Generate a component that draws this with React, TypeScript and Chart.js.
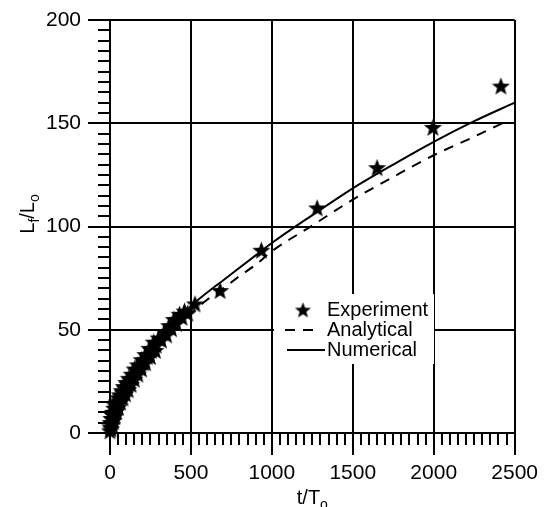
import React, { useEffect, useRef } from 'react';
import { Chart, registerables } from 'chart.js';

Chart.register(...registerables);

// ---- data ----
const xTickValues = [0, 500, 1000, 1500, 2000, 2500];
const yTickValues = [0, 50, 100, 150, 200];

const expT = [0, 2, 4, 6, 8, 10, 12, 14, 15, 18, 21, 22, 25, 28, 30, 32, 36, 40, 40, 45, 50, 52, 55, 60, 65, 66, 72, 78, 80, 85, 92, 95, 100, 108, 112, 116, 125, 130, 134, 143, 150, 152, 162, 172, 172, 183, 195, 195, 205, 218, 220, 230, 243, 250, 256, 270, 280, 285, 300, 318, 335, 350, 365, 380, 395, 410, 430, 445, 460, 480, 525, 680, 935, 1280, 1650, 1995, 2415];
const expY = [1, 3, 5, 2, 7, 5, 9, 4, 7, 10, 8.5, 6, 12, 10, 8, 13.5, 12, 15, 10.5, 14, 17, 12.5, 15.5, 18.5, 15, 17.5, 20.5, 19.5, 17, 22.5, 21.5, 19, 24.5, 23.5, 21, 26.5, 25.5, 23.5, 28.5, 28, 26, 31, 30, 33, 28.5, 32, 35.5, 31, 34, 38, 34, 37, 41, 37, 40, 44, 40, 42.5, 46, 45, 49, 47.5, 52, 50.5, 55, 53, 57.5, 56, 59, 58, 62.5, 69, 88.5, 109, 128.5, 148, 168];

const numT = [0, 10, 25, 50, 100, 200, 300, 400, 500, 600, 700, 800, 900, 1000, 1250, 1500, 1750, 2000, 2250, 2500];
const numY = [0, 6, 10.5, 16, 24, 36, 45.5, 54, 61.5, 68, 74, 80, 86, 92, 105.5, 118.5, 130, 141, 151, 160];

const anaT = [0, 10, 25, 50, 100, 200, 300, 400, 500, 600, 700, 800, 900, 1000, 1250, 1500, 1750, 2000, 2250, 2450];
const anaY = [0, 6, 10.3, 15.5, 23, 34.5, 43.5, 51, 58, 64.5, 70, 76, 81.5, 88, 100.5, 113, 124, 134.5, 143.5, 151];

const legendLabels = ['Experiment', 'Analytical', 'Numerical'];
const xTitle = [{ t: 't/T', sub: false }, { t: 'o', sub: true }];
const yTitle = [{ t: 'L', sub: false }, { t: 'f', sub: true }, { t: '/L', sub: false }, { t: 'o', sub: true }];

const FONT = "'Liberation Sans', Arial, Helvetica, sans-serif";

function makeStar(r: number): HTMLCanvasElement {
  const size = Math.ceil(r * 2 + 2);
  const c = document.createElement('canvas');
  c.width = size;
  c.height = size;
  const ctx = c.getContext('2d')!;
  const cx = size / 2;
  const cy = size / 2 + r * 0.08;
  ctx.beginPath();
  for (let i = 0; i < 10; i++) {
    const rad = i % 2 === 0 ? r : r * 0.42;
    const a = -Math.PI / 2 + (i * Math.PI) / 5;
    const px = cx + rad * Math.cos(a);
    const py = cy + rad * Math.sin(a);
    if (i === 0) ctx.moveTo(px, py);
    else ctx.lineTo(px, py);
  }
  ctx.closePath();
  ctx.fillStyle = '#000';
  ctx.fill();
  return c;
}

function drawRich(ctx: CanvasRenderingContext2D, parts: { t: string; sub: boolean }[], x: number, y: number) {
  const big = `20px ${FONT}`;
  const small = `14px ${FONT}`;
  let w = 0;
  for (const p of parts) {
    ctx.font = p.sub ? small : big;
    w += ctx.measureText(p.t).width;
  }
  let cx = x - w / 2;
  ctx.textAlign = 'left';
  ctx.textBaseline = 'alphabetic';
  for (const p of parts) {
    ctx.font = p.sub ? small : big;
    ctx.fillText(p.t, cx, p.sub ? y + 5 : y);
    cx += ctx.measureText(p.t).width;
  }
}

export default function App() {
  const ref = useRef<HTMLCanvasElement | null>(null);

  useEffect(() => {
    if (!ref.current) return;
    const star = makeStar(9.5);
    const legendStar = makeStar(8.5);

    const extras = {
      id: 'extras',
      afterDraw(chart: any) {
        const ctx: CanvasRenderingContext2D = chart.ctx;
        const xs = chart.scales.x;
        const ys = chart.scales.y;
        const area = chart.chartArea;
        ctx.save();
        ctx.strokeStyle = '#000';
        ctx.lineWidth = 2;
        // minor ticks
        ctx.beginPath();
        for (let v = 0; v <= 2500; v += 50) {
          if (v % 500 === 0) continue;
          const px = Math.round(xs.getPixelForValue(v));
          ctx.moveTo(px, area.bottom);
          ctx.lineTo(px, area.bottom + 12);
        }
        for (let v = 0; v <= 200; v += 5) {
          if (v % 50 === 0) continue;
          const py = Math.round(ys.getPixelForValue(v));
          ctx.moveTo(area.left, py);
          ctx.lineTo(area.left - 12, py);
        }
        ctx.stroke();

        // legend
        ctx.fillStyle = '#fff';
        ctx.fillRect(274, 294, 160, 70);
        ctx.drawImage(legendStar, 303 - legendStar.width / 2, 310 - legendStar.height / 2);
        ctx.beginPath();
        ctx.setLineDash([10, 8]);
        ctx.moveTo(285, 330);
        ctx.lineTo(315, 330);
        ctx.stroke();
        ctx.setLineDash([]);
        ctx.beginPath();
        ctx.moveTo(287, 350);
        ctx.lineTo(325, 350);
        ctx.stroke();
        ctx.fillStyle = '#000';
        ctx.font = `20px ${FONT}`;
        ctx.textAlign = 'left';
        ctx.textBaseline = 'alphabetic';
        ctx.fillText(legendLabels[0], 327, 316);
        ctx.fillText(legendLabels[1], 327, 336);
        ctx.fillText(legendLabels[2], 327, 356);

        // axis titles
        drawRich(ctx, xTitle, (area.left + area.right) / 2, 504);
        ctx.translate(34, 214);
        ctx.rotate(-Math.PI / 2);
        drawRich(ctx, yTitle, 0, 0);
        ctx.restore();
      },
    };

    const chart = new Chart(ref.current, {
      type: 'scatter',
      data: {
        datasets: [
          {
            label: legendLabels[2],
            data: numT.map((t, i) => ({ x: t, y: numY[i] })),
            showLine: true,
            borderColor: '#000',
            borderWidth: 2,
            pointRadius: 0,
            cubicInterpolationMode: 'monotone',
          } as any,
          {
            label: legendLabels[1],
            data: anaT.map((t, i) => ({ x: t, y: anaY[i] })),
            showLine: true,
            borderColor: '#000',
            borderWidth: 2,
            borderDash: [10, 8],
            pointRadius: 0,
            cubicInterpolationMode: 'monotone',
          } as any,
          {
            label: legendLabels[0],
            data: expT.map((t, i) => ({ x: t, y: expY[i] })),
            showLine: false,
            pointStyle: star as any,
            pointRadius: 9,
            backgroundColor: '#000',
            borderColor: '#000',
            clip: false,
          } as any,
        ],
      },
      options: {
        animation: false,
        responsive: false,
        events: [],
        layout: { padding: { left: 0, right: 28, top: 20, bottom: 0 } },
        plugins: { legend: { display: false }, tooltip: { enabled: false } },
        scales: {
          x: {
            type: 'linear',
            min: 0,
            max: 2500,
            afterBuildTicks: (s: any) => {
              s.ticks = xTickValues.map((v) => ({ value: v }));
            },
            afterFit: (s: any) => {
              s.height = 74;
            },
            ticks: {
              color: '#000',
              font: { family: FONT, size: 21 },
              padding: 6,
              maxRotation: 0,
              autoSkip: false,
              callback: (v: any) => String(v),
            },
            grid: { color: '#000', lineWidth: 2, tickLength: 22, tickColor: '#000', tickWidth: 2 },
            border: { display: true, color: '#000', width: 2 },
          },
          y: {
            type: 'linear',
            min: 0,
            max: 200,
            afterBuildTicks: (s: any) => {
              s.ticks = yTickValues.map((v) => ({ value: v }));
            },
            afterFit: (s: any) => {
              s.width = 110;
            },
            ticks: {
              color: '#000',
              font: { family: FONT, size: 21 },
              padding: 7,
              autoSkip: false,
              callback: (v: any) => String(v),
            },
            grid: { color: '#000', lineWidth: 2, tickLength: 22, tickColor: '#000', tickWidth: 2 },
            border: { display: true, color: '#000', width: 2 },
          },
        },
      } as any,
      plugins: [extras],
    });
    return () => chart.destroy();
  }, []);

  return (
    <div style={{ position: 'fixed', left: 0, top: 0, width: 544, height: 507, background: '#fff' }}>
      <canvas ref={ref} width={544} height={507} style={{ display: 'block' }} />
    </div>
  );
}
